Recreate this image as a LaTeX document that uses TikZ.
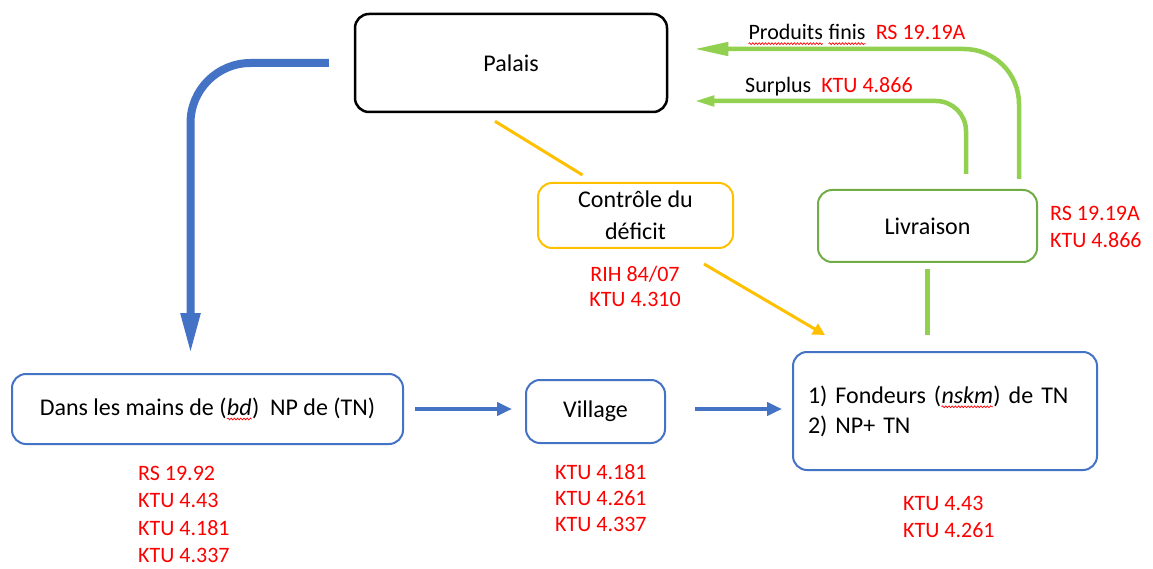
\documentclass[tikz,border=0pt]{standalone}
\usepackage{fontspec}
\setmainfont{Carlito}
\usetikzlibrary{arrows.meta,decorations.pathmorphing}
\definecolor{oblue}{HTML}{4472C4}
\definecolor{ogreen}{HTML}{70AD47}
\definecolor{lgreen}{HTML}{92D050}
\definecolor{oyellow}{HTML}{FFC000}
\definecolor{ored}{HTML}{FF0000}
\newcommand\spellmark[1]{\tikz[baseline=(spw.base), x=1cm, y=1cm]{%
  \node[inner sep=0pt, outer sep=0pt, draw=none, fill=none, rounded corners=0pt, minimum width=0pt, minimum height=0pt] (spw) {#1};%
  \draw[ored, line width=0.7pt, rounded corners=0pt, decorate, decoration={snake, amplitude=0.9pt, segment length=3.2pt}]
    ([yshift=-3.5pt]spw.south west) -- ([yshift=-3.5pt]spw.south east);}}
\tikzset{
  box/.style={draw, rounded corners=14pt, line width=2pt, align=center, fill=white,
    font=\fontsize{24}{32}\selectfont, inner sep=0pt},
  reflist/.style={text=ored, font=\fontsize{22}{28}\selectfont, align=left, inner sep=0pt, anchor=north west},
  toplabel/.style={font=\fontsize{22}{26}\selectfont, inner sep=0pt, anchor=base west},
  bigblue/.style={draw=oblue, line width=8pt, -{Triangle[width=18pt,length=42pt]}},
  smallblue/.style={draw=oblue, line width=4pt, -{Triangle[width=13pt,length=15pt]}},
  yline/.style={draw=oyellow, line width=3pt},
  yarrow/.style={draw=oyellow, line width=3pt, -{Triangle[width=12pt,length=12pt]}},
  gline/.style={draw=lgreen, line width=4.5pt},
}
\begin{document}
\begin{tikzpicture}[x=1pt,y=-1pt]
\useasboundingbox[fill=white] (0,0) rectangle (1153,569);

% boxes
\node[box, draw=black, line width=2.5pt, minimum width=312pt, minimum height=98pt] (palais) at (511,63) {Palais};
\node[box, draw=oyellow, minimum width=195pt, minimum height=65pt] (contr) at (635.5,215.5) {Contrôle du\\déficit};
\node[box, draw=ogreen, minimum width=219pt, minimum height=72pt] (liv) at (927.5,226) {Livraison};
\node[box, draw=oblue, minimum width=391pt, minimum height=70pt] (dans) at (207.5,409) {Dans les mains de (\textit{\spellmark{bd}})\ \ NP de (TN)};
\node[box, draw=oblue, minimum width=139pt, minimum height=63pt] (village) at (595.5,411.5) {Village};
\node[box, draw=oblue, minimum width=304pt, minimum height=118pt, text width=274pt, align=left, font=\fontsize{24}{30}\selectfont] (fond) at (945,411) {1) Fondeurs (\textit{\spellmark{nskm}}) de TN\\2) NP+ TN};

% references
\node[reflist, font=\fontsize{22}{27.5}\selectfont] (rdans) at (138,466) {RS 19.92\\KTU 4.43\\KTU 4.181\\KTU 4.337};
\node[reflist, font=\fontsize{22}{26}\selectfont] (rvill) at (555,464) {KTU 4.181\\KTU 4.261\\KTU 4.337};
\node[reflist, font=\fontsize{22}{27}\selectfont] (rfond) at (903,496) {KTU 4.43\\KTU 4.261};
\node[reflist, font=\fontsize{22}{25}\selectfont, align=center, anchor=north] (rcontr) at (635,266) {RIH 84/07\\KTU 4.310};
\node[reflist, font=\fontsize{22}{27}\selectfont] (rliv) at (1050,206) {RS 19.19A\\KTU 4.866};

% labels on green arrows
\node[toplabel] (lprod) at (748,40) {\spellmark{Produits} \spellmark{finis}\ \ \textcolor{ored}{RS 19.19A}};
\node[toplabel] (lsurp) at (745,93) {Surplus\ \ \textcolor{ored}{KTU 4.866}};

% connectors
\draw[bigblue, rounded corners=60pt, shorten <=25pt] (palais.west) -| ([xshift=-17pt,yshift=18pt]dans.north);
\draw[yline] ([xshift=-16pt,yshift=-8pt]palais.south) -- ([xshift=-53pt,yshift=7pt]contr.north);
\draw[yarrow] ([xshift=68.5pt,yshift=-15pt]contr.south) -- ([xshift=33pt,yshift=16pt]fond.north west);
\draw[gline, shorten <=6pt, shorten >=16pt] (liv.south) -- (liv.south |- fond.north);
\draw[gline, rounded corners=30pt, -{Triangle[width=10pt,length=20pt]}] ([xshift=38.5pt,yshift=15pt]liv.north) |- ([xshift=26pt,yshift=-38pt]palais.east);
\draw[gline, rounded corners=55pt, -{Triangle[width=13pt,length=34pt]}] ([xshift=91.5pt,yshift=10pt]liv.north) |- ([xshift=26pt,yshift=14pt]palais.east);
\draw[smallblue, shorten <=11pt, shorten >=13pt] (dans.east) -- (village.west |- dans.east);
\draw[smallblue, shorten <=29pt, shorten >=10pt] (village.east |- dans.east) -- (fond.west |- dans.east);
\end{tikzpicture}
\end{document}
